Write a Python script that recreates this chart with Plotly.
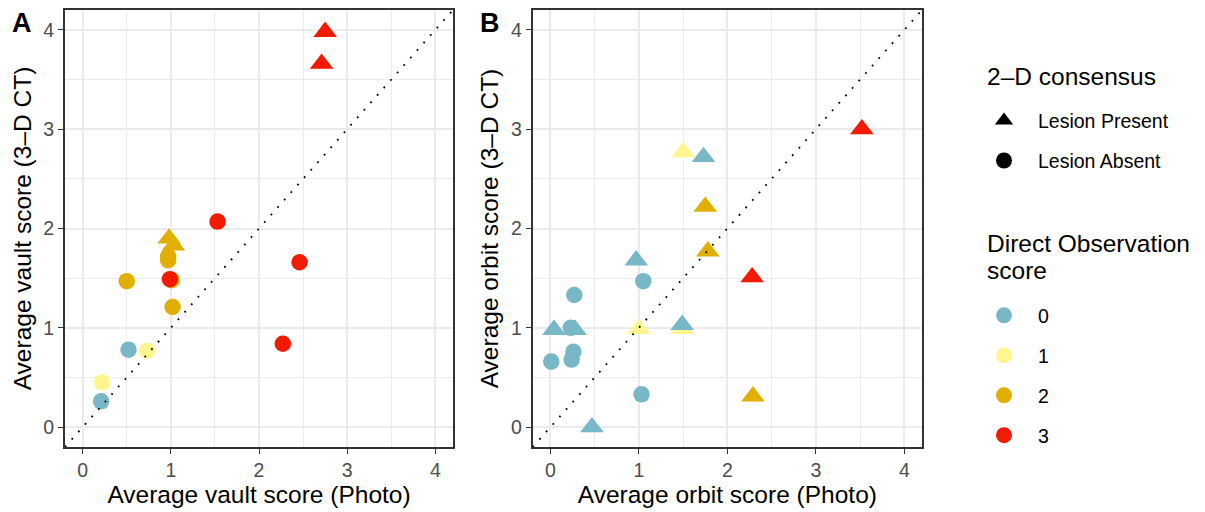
import plotly.graph_objects as go

# ---------------- data ----------------
# Panel A: vault scores
vault_photo = [0.21, 0.22, 0.52, 0.73, 0.50, 1.02, 1.01, 0.99, 0.97, 0.97, 1.53, 2.46, 2.27, 0.98, 1.03, 2.71, 2.75]
vault_ct = [0.26, 0.45, 0.78, 0.77, 1.47, 1.21, 1.48, 1.49, 1.68, 1.72, 2.07, 1.66, 0.84, 1.90, 1.83, 3.66, 3.98]
vault_do = [0, 1, 0, 1, 2, 2, 2, 3, 2, 2, 3, 3, 3, 2, 2, 3, 3]
vault_lesion = ["Absent"] * 13 + ["Present"] * 4

# Panel B: orbit scores
orbit_photo = [0.01, 0.24, 0.26, 0.23, 0.27, 1.05, 1.03, 0.04, 0.28, 0.47, 1.00, 1.49, 1.49, 0.97, 1.78, 1.75, 1.50, 1.73, 2.28, 2.29, 3.52]
orbit_ct = [0.66, 0.68, 0.76, 1.00, 1.33, 1.47, 0.33, 0.98, 0.98, 0.00, 0.99, 0.99, 1.03, 1.68, 1.77, 2.22, 2.77, 2.72, 1.51, 0.31, 3.00]
orbit_do = [0, 0, 0, 0, 0, 0, 0, 0, 0, 0, 1, 1, 0, 0, 2, 2, 1, 0, 3, 2, 3]
orbit_lesion = ["Absent"] * 7 + ["Present"] * 14

do_levels = [0, 1, 2, 3]
lesion_levels = ["Present", "Absent"]
lesion_labels = {"Present": "Lesion Present", "Absent": "Lesion Absent"}

# ---------------- styling ----------------
do_colors = {0: "#78B7C5", 1: "#FFF68F", 2: "#E1AF00", 3: "#F21A00"}
lesion_symbols = {"Present": "triangle-up", "Absent": "circle"}
lesion_sizes = {"Present": 20.5, "Absent": 16.5}

FONT = "Liberation Sans, Arial, Helvetica, sans-serif"
W, H = 1205, 512
M_L, M_R, M_T, M_B = 65, 283, 9.5, 65
plot_w = W - M_L - M_R
plot_h = H - M_T - M_B


def px_x(px):
    return (px - M_L) / plot_w


def px_y(py):
    return (H - M_B - py) / plot_h


axis_range = [-0.2, 4.2]

fig = go.Figure()


def add_panel(xs, ys, dos, lesions, xa, ya):
    fig.add_trace(go.Scatter(
        x=xs, y=ys, mode="markers", xaxis=xa, yaxis=ya, showlegend=False,
        marker=dict(
            color=[do_colors[d] for d in dos],
            symbol=[lesion_symbols[l] for l in lesions],
            size=[lesion_sizes[l] for l in lesions],
            line=dict(width=0),
            opacity=1,
        ),
        hoverinfo="x+y",
    ))
    # identity reference line y = x across the full axis range
    fig.add_trace(go.Scatter(
        x=axis_range, y=axis_range, mode="lines", xaxis=xa, yaxis=ya,
        showlegend=False, hoverinfo="skip",
        line=dict(color="black", width=1.8, dash="1.8px,8.2px"),
    ))


add_panel(vault_photo, vault_ct, vault_do, vault_lesion, "x", "y")
add_panel(orbit_photo, orbit_ct, orbit_do, orbit_lesion, "x2", "y2")

# ---------------- legends (one entry per legend box) ----------------
legend_rows = []
for i, lev in enumerate(lesion_levels):
    legend_rows.append(dict(name=lesion_labels[lev], color="black",
                            symbol=lesion_symbols[lev], yc=120 + 40 * i))
for i, lev in enumerate(do_levels):
    legend_rows.append(dict(name=str(lev), color=do_colors[lev],
                            symbol="circle", yc=315 + 40 * i))

layout_legends = {}
for i, row in enumerate(legend_rows):
    key = "legend" if i == 0 else f"legend{i + 1}"
    fig.add_trace(go.Scatter(
        x=[None], y=[None], mode="markers", name=row["name"], legend=key,
        marker=dict(color=row["color"], symbol=row["symbol"], size=17),
        showlegend=True,
    ))
    layout_legends[key] = dict(
        x=px_x(970), xanchor="left",
        y=px_y(row["yc"] - 19), yanchor="top",
        font=dict(family=FONT, size=19.5, color="black"),
        itemwidth=58, bgcolor="rgba(0,0,0,0)", borderwidth=0,
    )

axis_common = dict(
    range=axis_range, tickmode="linear", tick0=0, dtick=1,
    showgrid=True, gridcolor="#EBEBEB", gridwidth=2,
    minor=dict(tickmode="linear", tick0=0, dtick=0.5, showgrid=True,
               gridcolor="#EBEBEB", gridwidth=1.2),
    zeroline=False, showline=True, mirror=True,
    linecolor="#333333", linewidth=1.8,
    ticks="outside", ticklen=5, tickwidth=1.1, tickcolor="#333333",
    tickfont=dict(family=FONT, size=19.5, color="#4D4D4D"),
    automargin=False,
)

xdom_a = [0, px_x(453)]
xdom_b = [px_x(532.7), 1.0]

fig.update_layout(
    width=W, height=H,
    margin=dict(l=M_L, r=M_R, t=M_T, b=M_B, pad=0),
    paper_bgcolor="white", plot_bgcolor="white",
    font=dict(family=FONT, color="black"),
    xaxis=dict(axis_common, domain=xdom_a, anchor="y",
               title=dict(text="Average vault score (Photo)", standoff=6,
                          font=dict(family=FONT, size=24.5, color="black"))),
    yaxis=dict(axis_common, domain=[0, 1], anchor="x",
               title=dict(text="Average vault score (3–D CT)", standoff=5,
                          font=dict(family=FONT, size=24.5, color="black"))),
    xaxis2=dict(axis_common, domain=xdom_b, anchor="y2",
                title=dict(text="Average orbit score (Photo)", standoff=6,
                           font=dict(family=FONT, size=24.5, color="black"))),
    yaxis2=dict(axis_common, domain=[0, 1], anchor="x2",
                title=dict(text="Average orbit score (3–D CT)", standoff=5,
                           font=dict(family=FONT, size=24.5, color="black"))),
    **layout_legends,
)

# panel tags and legend titles
annotations = [
    dict(text="<b>A</b>", x=px_x(22), y=px_y(23)),
    dict(text="<b>B</b>", x=px_x(490), y=px_y(23)),
]
for ann in annotations:
    ann.update(xref="paper", yref="paper", xanchor="center", yanchor="middle",
               showarrow=False, font=dict(family=FONT, size=27, color="black"))

titles = [("2–D consensus", 76), ("Direct Observation", 243), ("score", 270)]
for text, yc in titles:
    annotations.append(dict(
        text=text, x=px_x(985), y=px_y(yc), xref="paper", yref="paper",
        xanchor="left", yanchor="middle", showarrow=False,
        font=dict(family=FONT, size=24.5, color="black"),
    ))
fig.update_layout(annotations=annotations)

fig.write_html("out.html")
